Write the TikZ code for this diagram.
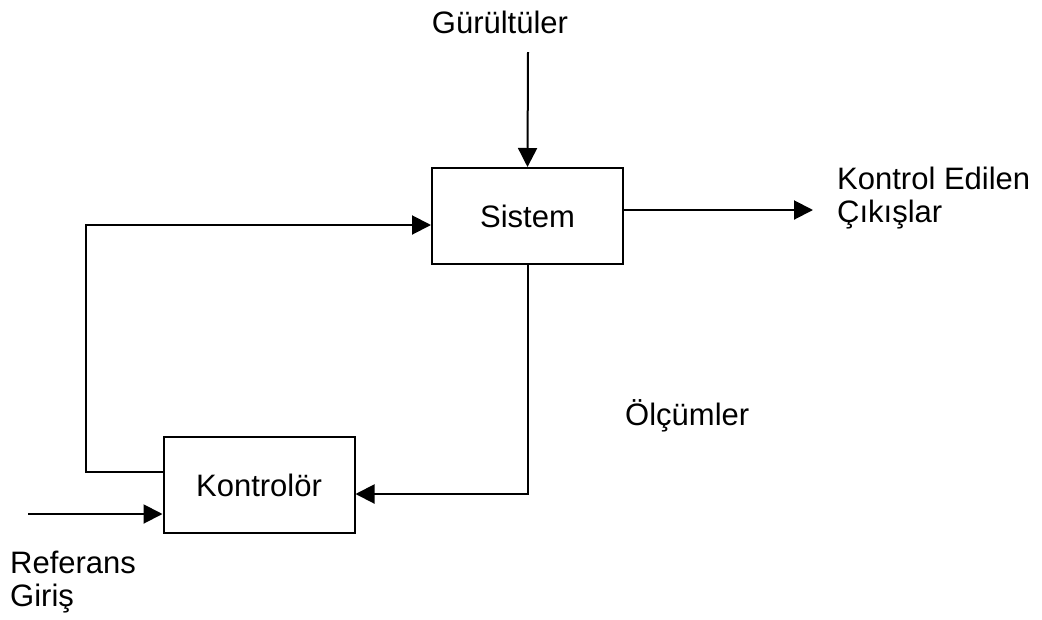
\documentclass[tikz,border=0pt]{standalone}
\usepackage{fontspec}
\setmainfont{Liberation Sans}
\usetikzlibrary{arrows.meta}

\begin{document}
\begin{tikzpicture}[x=1pt,y=-1pt,
  every node/.style={font=\fontsize{31}{33}\selectfont},
  blockbox/.style={draw,line width=2pt,minimum width=191pt,minimum height=96pt,inner sep=0pt},
  label/.style={inner sep=0pt},
  wire/.style={line width=2pt},
  arrow/.style={wire,-{Triangle[length=19pt,width=19pt]}}]

  \useasboundingbox (0,0) rectangle (1042,619);

  % blocks
  \node[blockbox] (sis) at (527.5,216) {Sistem};
  \node[blockbox] (kon) at (259,485) {Kontrolör};

  % texts (two-line labels are anchored at the baseline of their last line)
  \node[label,anchor=base] (gur) at (500,33) {Gürültüler};
  \node[label,anchor=base west,align=left] (cik) at (837,222) {Kontrol Edilen\\Çıkışlar};
  \node[label,anchor=base west] (olc) at (625,425) {Ölçümler};
  \node[label,anchor=base west,align=left] (ref) at (10,606) {Referans\\Giriş};

  % free ends of the connectors
  \coordinate (gurEnd) at (528,52);
  \coordinate (outEnd) at (813,210);
  \coordinate (refEnd) at (28,514);

  % signal flow
  \draw[arrow] (gurEnd) -- (sis.north);
  \draw[arrow] ([yshift=6pt]sis.east) -- (outEnd);
  \draw[arrow] ([yshift=13pt]kon.west) -- ++(-77,0) |- ([yshift=-9pt]sis.west);
  \draw[arrow] (sis.south) |- ([yshift=-9pt]kon.east);
  \draw[arrow] (refEnd) -- ([yshift=-29pt]kon.west);
\end{tikzpicture}
\end{document}
